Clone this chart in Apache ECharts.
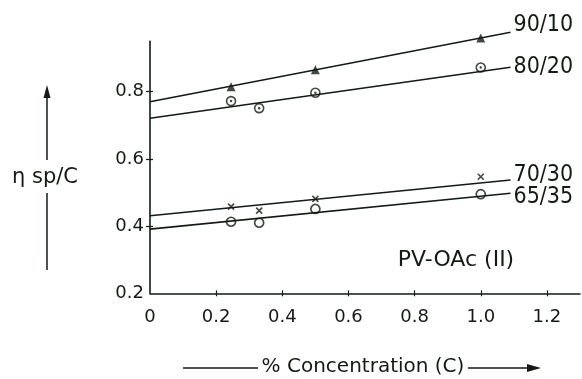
<!DOCTYPE html>
<html>
<head>
<meta charset="utf-8">
<script src="https://cdn.jsdelivr.net/npm/echarts@6/dist/echarts.min.js"></script>
<style>
html,body{margin:0;padding:0;background:#fff;}
#c{width:582px;height:379px;}
</style>
</head>
<body>
<div id="c"></div>
<script>
// ---- data ----
const xTicks = [0, 0.2, 0.4, 0.6, 0.8, 1.0, 1.2];
const yTicks = [0.2, 0.4, 0.6, 0.8];
const conc90 = [0.245, 0.5, 1.0];
const eta90 = [0.815, 0.865, 0.96];
const conc = [0.245, 0.33, 0.5, 1.0];
const eta80 = [0.772, 0.751, 0.797, 0.872];
const eta70 = [0.458, 0.446, 0.481, 0.547];
const eta65 = [0.413, 0.410, 0.451, 0.495];
const fitX = [0, 1.09];
const fit90 = [0.770, 0.977];
const fit80 = [0.721, 0.873];
const fit70 = [0.431, 0.537];
const fit65 = [0.391, 0.498];
const seriesNames = ['90/10', '80/20', '70/30', '65/35'];

const INK = '#141a14';
const labelFont = '"Liberation Sans Narrow", "DejaVu Sans Condensed", "DejaVu Sans", sans-serif';
const pair = (xs, ys) => xs.map((x, i) => [x, ys[i]]);

function fitLine(name, ys, offY) {
  return {
    type: 'line', name: name, data: pair(fitX, ys), showSymbol: false, symbol: 'none',
    clip: false, silent: true, animation: false,
    lineStyle: {color: INK, width: 1.6},
    endLabel: {show: true, formatter: '{a}', color: INK, fontSize: 23,
      fontFamily: labelFont, distance: 3, offset: [0, offY]}
  };
}
function pts(xs, ys, symbol, size, filled, bw) {
  return {
    type: 'scatter', data: pair(xs, ys), symbol: symbol, symbolSize: size, clip: false,
    animation: false, silent: true,
    itemStyle: filled ? {color: INK} : {color: 'rgba(255,255,255,0)', borderColor: INK, borderWidth: bw || 1.5}
  };
}

const baseAxis = {
  axisLine: {show: true, lineStyle: {color: INK, width: 1.6}},
  splitLine: {show: false}
};

const chart = echarts.init(document.getElementById('c'));
chart.setOption({
  backgroundColor: '#fff',
  animation: false,
  grid: {left: 150, top: 41.3, width: 430, height: 252, containLabel: false},
  xAxis: [
    Object.assign({}, baseAxis, {
      type: 'value', min: 0, max: 1.3, interval: 0.2, position: 'bottom',
      axisTick: {show: true, inside: false, length: 3, lineStyle: {color: INK, width: 1.2}, customValues: xTicks.slice(1)},
      axisLabel: {show: true, margin: 15, color: INK, fontSize: 18, fontFamily: '"DejaVu Sans", sans-serif',
        customValues: xTicks, formatter: v => v === 0 ? '0' : v.toFixed(1)}
    }),
    {
      type: 'value', min: 0, max: 1.3, interval: 0.2, position: 'bottom',
      axisLine: {show: false}, splitLine: {show: false}, axisLabel: {show: false},
      axisTick: {show: true, inside: true, length: 3, lineStyle: {color: INK, width: 1.2}, customValues: xTicks.slice(1)}
    }
  ],
  yAxis: [
    Object.assign({}, baseAxis, {
      type: 'value', min: 0.2, max: 0.95, interval: 0.2, position: 'left',
      axisTick: {show: true, inside: false, length: 4, lineStyle: {color: INK, width: 1.2}, customValues: yTicks.slice(1)},
      axisLabel: {show: true, margin: 6, color: INK, fontSize: 18, fontFamily: '"DejaVu Sans", sans-serif',
        customValues: yTicks, formatter: v => v.toFixed(1)}
    }),
    {
      type: 'value', min: 0.2, max: 0.95, interval: 0.2, position: 'left',
      axisLine: {show: false}, splitLine: {show: false}, axisLabel: {show: false},
      axisTick: {show: true, inside: true, length: 3, lineStyle: {color: INK, width: 1.2}, customValues: yTicks.slice(1)}
    }
  ],
  series: [
    fitLine(seriesNames[0], fit90, -7),
    fitLine(seriesNames[1], fit80, 0),
    fitLine(seriesNames[2], fit70, -5),
    fitLine(seriesNames[3], fit65, 4),
    pts(conc90, eta90, 'triangle', 9, true),
    pts(conc, eta80, 'circle', 9, false, 1.6),
    pts(conc, eta80, 'circle', 2.5, true),
    pts(conc, eta70, 'path://M0,0L10,10M10,0L0,10', 6, false, 1.6),
    pts(conc, eta65, 'circle', 9, false, 1.7)
  ],
  graphic: [
    // y-axis title with arrow
    {type: 'line', shape: {x1: 47, y1: 160, x2: 47, y2: 95}, style: {stroke: INK, lineWidth: 1.5}},
    {type: 'polygon', shape: {points: [[47, 85], [43.5, 98], [50.5, 98]]}, style: {fill: INK}},
    {type: 'line', shape: {x1: 47, y1: 193, x2: 47, y2: 270}, style: {stroke: INK, lineWidth: 1.5}},
    {type: 'text', x: 45, y: 178, style: {text: 'η sp/C', fill: INK, font: '21px "DejaVu Sans", sans-serif',
      align: 'center', verticalAlign: 'middle'}},
    // x-axis title with arrow
    {type: 'line', shape: {x1: 183, y1: 368, x2: 258, y2: 368}, style: {stroke: INK, lineWidth: 1.5}},
    {type: 'text', x: 363, y: 367, style: {text: '% Concentration (C)', fill: INK, font: '20px "DejaVu Sans", sans-serif',
      align: 'center', verticalAlign: 'middle'}},
    {type: 'line', shape: {x1: 468, y1: 368, x2: 530, y2: 368}, style: {stroke: INK, lineWidth: 1.5}},
    {type: 'polygon', shape: {points: [[541, 368], [527, 364], [527, 372]]}, style: {fill: INK}},
    // annotation
    {type: 'text', x: 456, y: 260, style: {text: 'PV-OAc (II)', fill: INK, font: '22px "DejaVu Sans", sans-serif',
      align: 'center', verticalAlign: 'middle'}}
  ]
});
</script>
</body>
</html>
